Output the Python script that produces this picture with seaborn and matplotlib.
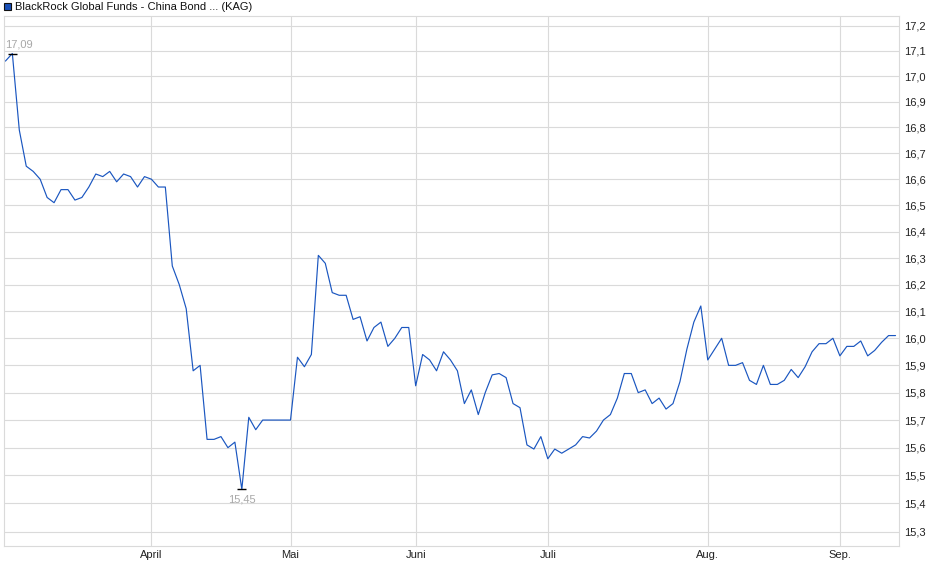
import numpy as np
import pandas as pd
import matplotlib
matplotlib.use("Agg")
import matplotlib.pyplot as plt
import matplotlib.ticker as mticker
from matplotlib.patches import Rectangle
import seaborn as sns

# fund price per trading day
prices = [
    17.06, 17.09, 16.79, 16.65, 16.63, 16.60, 16.53, 16.51, 16.56, 16.56,
    16.52, 16.53, 16.57, 16.62, 16.61, 16.63, 16.59, 16.62, 16.61, 16.57,
    16.61, 16.60, 16.57, 16.57, 16.27, 16.20, 16.11, 15.88, 15.90, 15.63,
    15.63, 15.64, 15.60, 15.62, 15.45, 15.71, 15.665, 15.70, 15.70, 15.70,
    15.70, 15.70, 15.93, 15.895, 15.94, 16.31, 16.28, 16.17, 16.16, 16.16,
    16.07, 16.08, 15.99, 16.04, 16.06, 15.97, 16.00, 16.04, 16.04, 15.825,
    15.94, 15.92, 15.88, 15.95, 15.92, 15.88, 15.76, 15.81, 15.72, 15.80,
    15.865, 15.87, 15.855, 15.76, 15.745, 15.61, 15.595, 15.64, 15.56, 15.595,
    15.58, 15.595, 15.61, 15.64, 15.635, 15.66, 15.70, 15.72, 15.78, 15.87,
    15.87, 15.80, 15.81, 15.76, 15.78, 15.74, 15.76, 15.84, 15.96, 16.06,
    16.12, 15.92, 15.96, 16.00, 15.90, 15.90, 15.91, 15.845, 15.83, 15.90,
    15.83, 15.83, 15.845, 15.885, 15.855, 15.895, 15.95, 15.98, 15.98, 16.00,
    15.935, 15.97, 15.97, 15.99, 15.935, 15.955, 15.985, 16.01, 16.01,
]
month_labels = ["April", "Mai", "Juni", "Juli", "Aug.", "Sep."]
month_start_idx = [21, 41, 59, 78, 101, 120]
y_ticks = [15.3, 15.4, 15.5, 15.6, 15.7, 15.8, 15.9, 16.0, 16.1, 16.2,
           16.3, 16.4, 16.5, 16.6, 16.7, 16.8, 16.9, 17.0, 17.1, 17.2]
title = "BlackRock Global Funds - China Bond ... (KAG)"

LINE_COLOR = "#1a56c0"
GRID_COLOR = "#dadada"


def comma(v, _pos=None):
    return f"{v:.1f}".replace(".", ",")


def main():
    sns.set_theme(style="white")
    plt.rcParams["font.family"] = ["Liberation Sans", "DejaVu Sans"]

    df = pd.DataFrame({"idx": np.arange(len(prices)), "price": prices})

    fig = plt.figure(figsize=(9.4, 5.79), dpi=100)
    ax = fig.add_axes([4 / 940, 33 / 579, 895 / 940, 530 / 579])

    sns.lineplot(data=df, x="idx", y="price", ax=ax, color=LINE_COLOR,
                 linewidth=0.85)

    ax.set_yscale("log")
    ax.set_ylim(15.249, 17.239)
    ax.set_xlim(-0.2, len(prices) - 0.5)

    ax.yaxis.set_major_locator(mticker.FixedLocator(y_ticks))
    ax.yaxis.set_minor_locator(mticker.NullLocator())
    ax.yaxis.set_major_formatter(mticker.FuncFormatter(comma))
    ax.yaxis.tick_right()
    ax.tick_params(axis="y", length=0, pad=4, labelsize=8, labelcolor="#222222")

    ax.set_xticks(month_start_idx)
    ax.set_xticklabels(month_labels)
    ax.tick_params(axis="x", length=0, pad=3, labelsize=8, labelcolor="#222222")

    ax.grid(True, color=GRID_COLOR, linewidth=0.8)
    for sp in ax.spines.values():
        sp.set_color(GRID_COLOR)
        sp.set_linewidth(0.8)
    ax.set_xlabel("")
    ax.set_ylabel("")

    # high / low markers
    i_max = int(np.argmax(prices))
    i_min = int(np.argmin(prices))
    v_max = prices[i_max]
    v_min = prices[i_min]
    ax.hlines(v_max, i_max - 0.65, i_max + 0.65, color="black", linewidth=1)
    ax.hlines(v_min, i_min - 0.65, i_min + 0.65, color="black", linewidth=1)
    ax.annotate(f"{v_max:.2f}".replace(".", ","), (i_max, v_max),
                xytext=(-5.0, 3.0), textcoords="offset points",
                ha="left", va="bottom", fontsize=8, color="#a8a8a8")
    ax.annotate(f"{v_min:.2f}".replace(".", ","), (i_min, v_min),
                xytext=(0, -3.5), textcoords="offset points",
                ha="center", va="top", fontsize=8, color="#a8a8a8")

    # legend-like header
    fig.patches.append(Rectangle((4 / 940, 1 - 10 / 579), 7 / 940, 7 / 579,
                                 transform=fig.transFigure,
                                 facecolor="#1a50b8", edgecolor="#111111",
                                 linewidth=0.8))
    fig.text(15 / 940, 1 - 6.5 / 579, title, ha="left", va="center",
             fontsize=8, color="#111111")

    fig.savefig("out.png", dpi=100)
    plt.close(fig)


if __name__ == "__main__":
    main()
